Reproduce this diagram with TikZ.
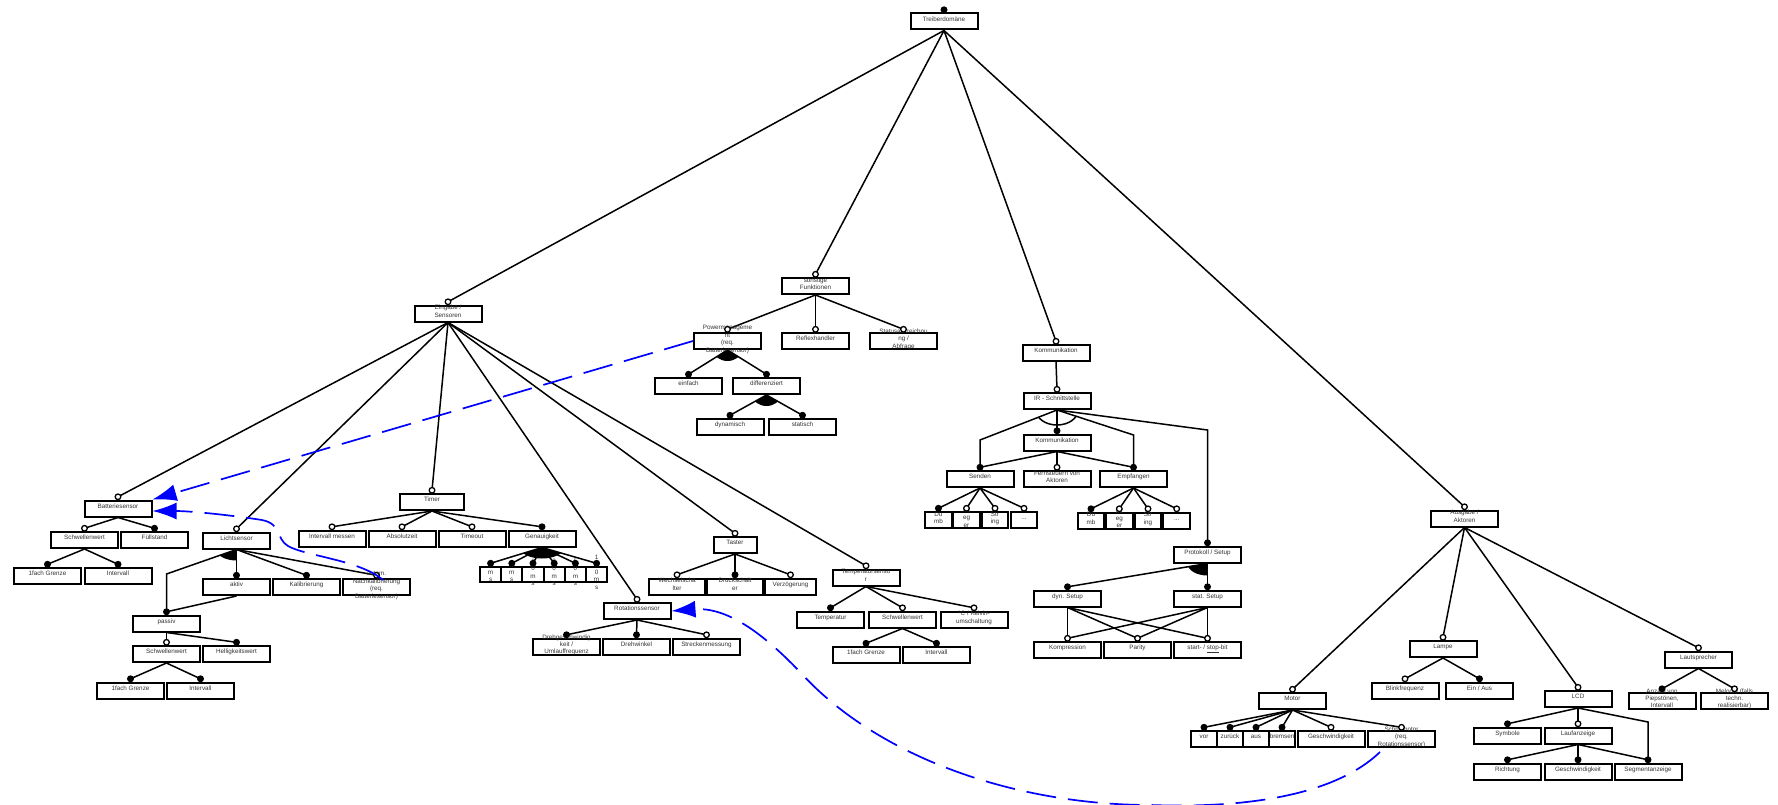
\documentclass[tikz,border=0pt]{standalone}
\usepackage{fontspec}
\setmainfont{Liberation Sans}
\usetikzlibrary{arrows.meta,calc}
\pgfdeclarelayer{bg}
\pgfsetlayers{bg,main}
\newcommand\ftext[1]{\smash{\makebox[0pt]{\fontsize{6.3}{7.4}\selectfont\begin{tabular}{@{}c@{}}#1\end{tabular}}}}
\newcommand\fedge[2]{\draw[fline] (#1.south) -- ([yshift=2.7pt]#2.north);}
\newcommand\fbend[3]{\draw[fline] (#1.south) -- (#3) -- ([yshift=2.7pt]#2.north);}
\newcommand\fopen[1]{\filldraw[mko] ([yshift=2.7pt]#1.north) circle (2.8pt);}
\newcommand\ffull[1]{\filldraw[mkf] ([yshift=2.7pt]#1.north) circle (2.8pt);}
\newcommand\fgrp[5]{\begin{scope}\clip (#1) -- ($(#1)!6!(#2)$) -- ($(#1)!6!(#3)$) -- cycle;\path[#4] (#1) ellipse (#5);\end{scope}}
\tikzset{
  fbox/.style={draw, line width=2pt, fill=white, minimum width=67pt, minimum height=16pt, inner sep=0pt, text=black!80},
  fline/.style={line width=1.5pt},
  mko/.style={draw=black, fill=white, line width=1.3pt},
  mkf/.style={draw=black, fill=black, line width=1.3pt},
  orgrp/.style={fill=black},
  altgrp/.style={draw, line width=1.5pt},
  dep/.style={draw=blue, line width=1.7pt, dash pattern=on 30pt off 12pt, -{Latex[length=24pt,width=17pt]}},
}
\begin{document}
\begin{tikzpicture}[x=1pt,y=-1pt]
\useasboundingbox (0,0) rectangle (1778,805);
% ---------- level 0/1
\node[fbox] (root) at (944,21.5) {\ftext{Treiberdomäne}};
\node[fbox] (ein) at (448,313.5) {\ftext{Eingabe /\\Sensoren}};
\node[fbox] (son) at (815.5,286) {\ftext{sonstige\\Funktionen}};
\node[fbox] (kom) at (1056,353) {\ftext{Kommunikation}};
\node[fbox] (aus) at (1464.5,518.5) {\ftext{Ausgabe /\\Aktoren}};
% ---------- Batteriesensor
\node[fbox] (batt) at (118,508.5) {\ftext{Batteriesensor}};
\node[fbox] (bsw) at (84.5,540) {\ftext{Schwellenwert}};
\node[fbox] (bfu) at (154.5,540) {\ftext{Füllstand}};
\node[fbox] (bg1) at (47.5,576) {\ftext{1fach Grenze}};
\node[fbox] (bin) at (118,576) {\ftext{Intervall}};
% ---------- Lichtsensor
\node[fbox] (licht) at (236.5,540.5) {\ftext{Lichtsensor}};
\node[fbox] (aktiv) at (236.5,587) {\ftext{aktiv}};
\node[fbox] (kal) at (306.5,587) {\ftext{Kalibrierung}};
\node[fbox] (nach) at (376.5,587) {\ftext{autom.\\Nachkalibrierung\\(req.\\Batteriesensor)}};
\node[fbox] (passiv) at (166.5,623.5) {\ftext{passiv}};
\node[fbox] (psw) at (166.5,654) {\ftext{Schwellenwert}};
\node[fbox] (phw) at (236.5,654) {\ftext{Helligkeitswert}};
\node[fbox] (pg1) at (130.5,690.5) {\ftext{1fach Grenze}};
\node[fbox] (pin) at (200.5,690.5) {\ftext{Intervall}};
% ---------- Timer
\node[fbox,minimum width=64pt] (timer) at (432,502) {\ftext{Timer}};
\node[fbox] (tim1) at (332,538.5) {\ftext{Intervall messen}};
\node[fbox] (tim2) at (402,538.5) {\ftext{Absolutzeit}};
\node[fbox] (tim3) at (472,538.5) {\ftext{Timeout}};
\node[fbox] (gen) at (542,538.5) {\ftext{Genauigkeit}};
\tikzset{msbox/.style={fbox,minimum width=21.2pt,minimum height=15pt}}
\node[msbox] (gms1) at (490.6,574.5) {\ftext{1\\m\\s}};
\node[msbox] (gms2) at (511.8,574.5) {\ftext{5\\m\\s}};
\node[msbox] (gms3) at (533.0,574.5) {\ftext{1\\0\\m\\s}};
\node[msbox] (gms4) at (554.2,574.5) {\ftext{2\\0\\m\\s}};
\node[msbox] (gms5) at (575.4,574.5) {\ftext{5\\0\\m\\s}};
\node[msbox] (gms6) at (596.6,574.5) {\ftext{1\\0\\0\\m\\s}};
% ---------- Rotationssensor
\node[fbox] (rot) at (637,611) {\ftext{Rotationssensor}};
\node[fbox] (rdg) at (566.5,646.5) {\ftext{Drehgeschwindig\\keit /\\Umlauffrequenz}};
\node[fbox] (rdw) at (636.5,646.5) {\ftext{Drehwinkel}};
\node[fbox] (rsm) at (706.5,646.5) {\ftext{Streckenmessung}};
% ---------- Taster
\node[fbox,minimum width=43pt] (taster) at (735,545) {\ftext{Taster}};
\node[fbox,minimum width=56pt] (tw) at (677,586.5) {\ftext{Wechselscha\\lter}};
\node[fbox,minimum width=56pt] (td) at (735,586.5) {\ftext{Druckschalt\\er}};
\node[fbox,minimum width=51pt] (tv) at (790.5,586.5) {\ftext{Verzögerung}};
% ---------- Temperatursensor
\node[fbox] (temp) at (866,577.5) {\ftext{Temperatursenso\\r}};
\node[fbox] (tt) at (830.5,619.5) {\ftext{Temperatur}};
\node[fbox] (tsw) at (902.5,619.5) {\ftext{Schwellenwert}};
\node[fbox] (tck) at (974,619.5) {\ftext{°C / Kelvin-\\umschaltung}};
\node[fbox] (tg1) at (866,655) {\ftext{1fach Grenze}};
\node[fbox] (tin) at (936.5,655) {\ftext{Intervall}};
% ---------- sonstige Funktionen
\node[fbox] (pm) at (727.5,341) {\ftext{Powermanageme\\nt\\(req.\\Batteriesensor)}};
\node[fbox] (refl) at (815.5,341) {\ftext{Reflexhandler}};
\node[fbox] (stat) at (903.5,341) {\ftext{Statusaufzeichnu\\ng /\\Abfrage}};
\node[fbox] (einf) at (688.5,386) {\ftext{einfach}};
\node[fbox] (diff) at (766.5,386) {\ftext{differenziert}};
\node[fbox] (dyn) at (730,427) {\ftext{dynamisch}};
\node[fbox] (sta) at (802.5,427) {\ftext{statisch}};
% ---------- Kommunikation
\node[fbox] (ir) at (1057,401) {\ftext{IR - Schnittstelle}};
\node[fbox] (kom2) at (1057,442.5) {\ftext{Kommunikation}};
\node[fbox] (send) at (980,479) {\ftext{Senden}};
\node[fbox] (fern) at (1057,479) {\ftext{Fernsteuern von\\Aktoren}};
\node[fbox] (emp) at (1133.5,479) {\ftext{Empfangen}};
\tikzset{sbox/.style={fbox,minimum width=26.7pt}}
\node[sbox] (s1) at (938.4,520) {\ftext{Du\\mb}};
\node[sbox] (s2) at (966.5,520) {\ftext{Int\\eg\\er}};
\node[sbox] (s3) at (995,520) {\ftext{Str\\ing}};
\node[sbox] (s4) at (1024,520) {\ftext{...}};
\node[sbox] (e1) at (1091,520.5) {\ftext{Du\\mb}};
\node[sbox] (e2) at (1119.3,520.5) {\ftext{Int\\eg\\er}};
\node[sbox] (e3) at (1148,520.5) {\ftext{Str\\ing}};
\node[sbox] (e4) at (1176.7,520.5) {\ftext{...}};
\node[fbox] (proto) at (1207.5,554.5) {\ftext{Protokoll / Setup}};
\node[fbox] (dsetup) at (1067.5,598.5) {\ftext{dyn. Setup}};
\node[fbox] (ssetup) at (1207.5,598.5) {\ftext{stat. Setup}};
\node[fbox] (komp) at (1067.5,650) {\ftext{Kompression}};
\node[fbox] (par) at (1137.5,650) {\ftext{Parity}};
\node[fbox] (ssb) at (1207.5,650) {\ftext{start- / \underline{stop}-bit}};
% ---------- Ausgabe
\node[fbox] (motor) at (1292.5,701) {\ftext{Motor}};
\tikzset{mbox/.style={fbox,minimum width=26pt}}
\node[mbox] (mvor) at (1204,739) {\ftext{vor}};
\node[mbox] (mzur) at (1230,739) {\ftext{zurück}};
\node[mbox] (maus) at (1256,739) {\ftext{aus}};
\node[mbox] (mbre) at (1282,739) {\ftext{bremsen}};
\node[fbox] (mg) at (1331,739) {\ftext{Geschwindigkeit}};
\node[fbox] (mschr) at (1401.5,739) {\ftext{Schrittmotor\\(req.\\Rotationssensor)}};
\node[fbox] (lampe) at (1443,649) {\ftext{Lampe}};
\node[fbox] (blink) at (1405,690.5) {\ftext{Blinkfrequenz}};
\node[fbox] (einaus) at (1479.5,690.5) {\ftext{Ein / Aus}};
\node[fbox] (lcd) at (1578,699) {\ftext{LCD}};
\node[fbox] (sym) at (1507.5,735.5) {\ftext{Symbole}};
\node[fbox] (lauf) at (1578,735.5) {\ftext{Laufanzeige}};
\node[fbox] (richt) at (1507.5,771.5) {\ftext{Richtung}};
\node[fbox] (lgesch) at (1578,771.5) {\ftext{Geschwindigkeit}};
\node[fbox] (seg) at (1648,771.5) {\ftext{Segmentanzeige}};
\node[fbox] (laut) at (1698.5,659.5) {\ftext{Lautsprecher}};
\node[fbox] (anz) at (1662,700.5) {\ftext{Anzahl von\\Piepstönen,\\Intervall}};
\node[fbox] (mel) at (1734.5,700.5) {\ftext{Melodie (falls\\techn.\\realisierbar)}};
% ---------- edges
\begin{pgfonlayer}{bg}
\foreach \c in {ein,son,kom,aus} {\fedge{root}{\c}}
\foreach \c in {batt,licht,timer,rot,taster,temp} {\fedge{ein}{\c}}
\foreach \c in {bsw,bfu} {\fedge{batt}{\c}}
\foreach \c in {bg1,bin} {\fedge{bsw}{\c}}
\fbend{licht}{passiv}{166.5,574}
\foreach \c in {aktiv,kal,nach} {\fedge{licht}{\c}}
\fedge{aktiv}{passiv}
\foreach \c in {psw,phw} {\fedge{passiv}{\c}}
\foreach \c in {pg1,pin} {\fedge{psw}{\c}}
\foreach \c in {tim1,tim2,tim3,gen} {\fedge{timer}{\c}}
\foreach \i in {1,...,6} {\fedge{gen}{gms\i}}
\foreach \c in {rdg,rdw,rsm} {\fedge{rot}{\c}}
\foreach \c in {tw,td,tv} {\fedge{taster}{\c}}
\foreach \c in {tt,tsw,tck} {\fedge{temp}{\c}}
\foreach \c in {tg1,tin} {\fedge{tsw}{\c}}
\foreach \c in {pm,refl,stat} {\fedge{son}{\c}}
\foreach \c in {einf,diff} {\fedge{pm}{\c}}
\foreach \c in {dyn,sta} {\fedge{diff}{\c}}
\fedge{kom}{ir}
\fbend{ir}{send}{980,440}
\fedge{ir}{kom2}
\fbend{ir}{emp}{1133.5,435}
\fbend{ir}{proto}{1207.5,430}
\foreach \c in {send,fern,emp} {\fedge{kom2}{\c}}
\foreach \c in {s1,s2,s3,s4} {\fedge{send}{\c}}
\foreach \c in {e1,e2,e3,e4} {\fedge{emp}{\c}}
\foreach \c in {dsetup,ssetup} {\fedge{proto}{\c}}
\foreach \c in {komp,par,ssb} {\fedge{dsetup}{\c}\fedge{ssetup}{\c}}
\foreach \c in {motor,lampe,lcd,laut} {\fedge{aus}{\c}}
\foreach \c in {mvor,mzur,maus,mbre,mg,mschr} {\fedge{motor}{\c}}
\foreach \c in {blink,einaus} {\fedge{lampe}{\c}}
\foreach \c in {sym,lauf} {\fedge{lcd}{\c}}
\fbend{lcd}{seg}{1648,722}
\foreach \c in {richt,lgesch,seg} {\fedge{lauf}{\c}}
\foreach \c in {anz,mel} {\fedge{laut}{\c}}
\end{pgfonlayer}
% ---------- group arcs
\fgrp{licht.south}{166.5,574}{236.5,576}{orgrp}{20pt and 11pt}
\fgrp{gen.south}{490.6,564}{596.6,564}{orgrp}{22pt and 11pt}
\fgrp{pm.south}{688.5,375}{766.5,375}{orgrp}{14pt and 11pt}
\fgrp{diff.south}{730,416}{802.5,416}{orgrp}{14pt and 11pt}
\fgrp{ir.south}{980,440}{1133.5,435}{altgrp}{21pt and 15pt}
\fgrp{proto.south}{1067.5,588}{1207.5,588}{orgrp}{20pt and 12pt}
% ---------- markers
\ffull{root}
\foreach \c in {ein,son,kom,aus,batt,licht,timer,rot,taster,temp,bsw,nach,psw,tim1,tim2,tim3,rsm,tw,tv,tsw,tck,pm,refl,stat,ir,fern,s2,s3,s4,e2,e3,e4,komp,par,ssb,motor,lampe,lcd,laut,mg,mschr,blink,lauf,mel} {\fopen{\c}}
\foreach \c in {bfu,bg1,bin,aktiv,kal,passiv,phw,pg1,pin,gen,gms1,gms2,gms3,gms4,gms5,gms6,rdg,rdw,td,tt,tg1,tin,einf,diff,dyn,sta,kom2,send,emp,s1,e1,proto,dsetup,ssetup,mvor,mzur,maus,mbre,einaus,sym,richt,lgesch,seg,anz} {\ffull{\c}}
% ---------- requires dependencies
\coordinate (nachdep) at (383,580);
\coordinate (schrdep) at (1380,752);
\draw[dep] (pm.west) -- (batt.north east);
\draw[dep] (nachdep) .. controls (360,560) and (305,556) .. (288,546) .. controls (276,539) and (282,524) .. (262,520) .. controls (230,515) and (190,511) .. ([yshift=-2.5pt]batt.east);
\draw[dep] (schrdep) .. controls (1330,800) and (1230,808) .. (1150,805) .. controls (1020,805) and (880,760) .. (800,672) .. controls (760,630) and (725,607) .. (rot.east);
\end{tikzpicture}
\end{document}
